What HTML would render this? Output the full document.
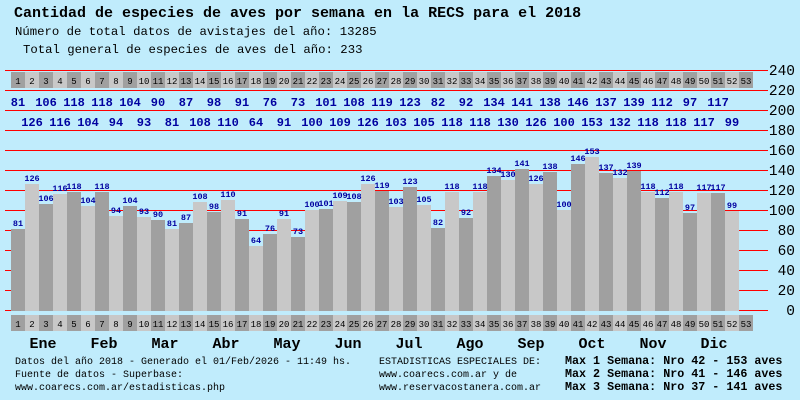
<!DOCTYPE html>
<html><head><meta charset="utf-8"><style>
body{margin:0;background:#c0ecfc;}
svg{display:block}
text{font-family:"Liberation Mono",monospace}
</style></head><body>
<svg id="c" width="800" height="400" xmlns="http://www.w3.org/2000/svg">
<rect width="800" height="400" fill="#c0ecfc"/>
<text x="14" y="17" font-size="15" font-weight="bold" fill="#000">Cantidad de especies de aves por semana en la RECS para el 2018</text>
<text x="15" y="35" font-size="12.3" fill="#000">Número de total datos de avistajes del año: 13285</text>
<text x="23" y="53" font-size="12.3" fill="#000">Total general de especies de aves del año: 233</text>
<g id="grid"></g><g id="bars"></g><g id="lbl"></g>
<g font-size="10" fill="#000">
<text x="15" y="364">Datos del año 2018 - Generado el 01/Feb/2026 - 11:49 hs.</text>
<text x="15" y="377">Fuente de datos - Superbase:</text>
<text x="15" y="390">www.coarecs.com.ar/estadisticas.php</text>
<text x="379" y="364">ESTADISTICAS ESPECIALES DE:</text>
<text x="379" y="377">www.coarecs.com.ar y de</text>
<text x="379" y="390">www.reservacostanera.com.ar</text>
</g>
<g font-size="11.7" font-weight="bold" fill="#000">
<text x="565" y="364">Max 1 Semana: Nro 42 - 153 aves</text>
<text x="565" y="377">Max 2 Semana: Nro 41 - 146 aves</text>
<text x="565" y="390">Max 3 Semana: Nro 37 - 141 aves</text>
</g>
</svg>
<script>
const values=[81,126,106,116,118,104,118,94,104,93,90,81,87,108,98,110,91,64,76,91,73,100,101,109,108,126,119,103,123,105,82,118,92,118,134,130,141,126,138,100,146,153,137,132,139,118,112,118,97,117,117,99];
const weeks=53;
const months=["Ene","Feb","Mar","Abr","May","Jun","Jul","Ago","Sep","Oct","Nov","Dic"];
const yTicks=[0,20,40,60,80,100,120,140,160,180,200,220,240];
const NS="http://www.w3.org/2000/svg";
const x0=11,cw=14,yBase=310,yScale=1;
const X=i=>x0+i*cw;
const Y=v=>yBase-v*yScale;
function el(t,a,p){const e=document.createElementNS(NS,t);for(const k in a)e.setAttribute(k,a[k]);document.getElementById(p).appendChild(e);return e;}
yTicks.forEach(v=>{
  const l=el('line',{x1:5,x2:768,y1:Y(v)+0.5,y2:Y(v)+0.5,stroke:'#ff0000','stroke-width':1,'shape-rendering':'crispEdges'},'grid');
  
  
  const t=el('text',{x:795,y:Y(v)+5,'font-size':14.5,'text-anchor':'end',fill:'#000','font-family':'Liberation Sans, sans-serif'},'grid');
  t.textContent=v;
  
  
});
for(let i=0;i<weeks;i++){
  [72,315].forEach((yy,r)=>{
    const rc=el('rect',{x:X(i),y:yy,width:cw,height:16,fill:i%2?'#c8c8c8':'#a0a0a0','shape-rendering':'crispEdges'},'bars');
    
    
    const t=el('text',{x:X(i)+cw/2,y:yy+12,'font-size':9,'text-anchor':'middle',fill:'#000'},'lbl');
    t.textContent=i+1;
    
    
  });
}
values.forEach((v,i)=>{
  const b=el('rect',{x:X(i),y:Y(v),width:cw,height:v*yScale+1,fill:i%2?'#c8c8c8':'#a0a0a0','shape-rendering':'crispEdges'},'bars');
  
  
  const t=el('text',{x:X(i)+cw/2,y:Y(v)-3,'font-size':8.5,'font-weight':'bold','text-anchor':'middle',fill:'#0000a0'},'lbl');
  t.textContent=v;
  
  
  const r=el('text',{x:X(i)+cw/2,y:i%2?126:106,'font-size':12,'font-weight':'bold','text-anchor':'middle',fill:'#0000a0'},'lbl');
  r.textContent=v;
  
  
});
months.forEach((m,i)=>{
  const t=el('text',{x:43+i*61,y:348,'font-size':15,'font-weight':'bold','text-anchor':'middle',fill:'#000'},'lbl');
  t.textContent=m;
  
  
});
</script>
</body></html>
